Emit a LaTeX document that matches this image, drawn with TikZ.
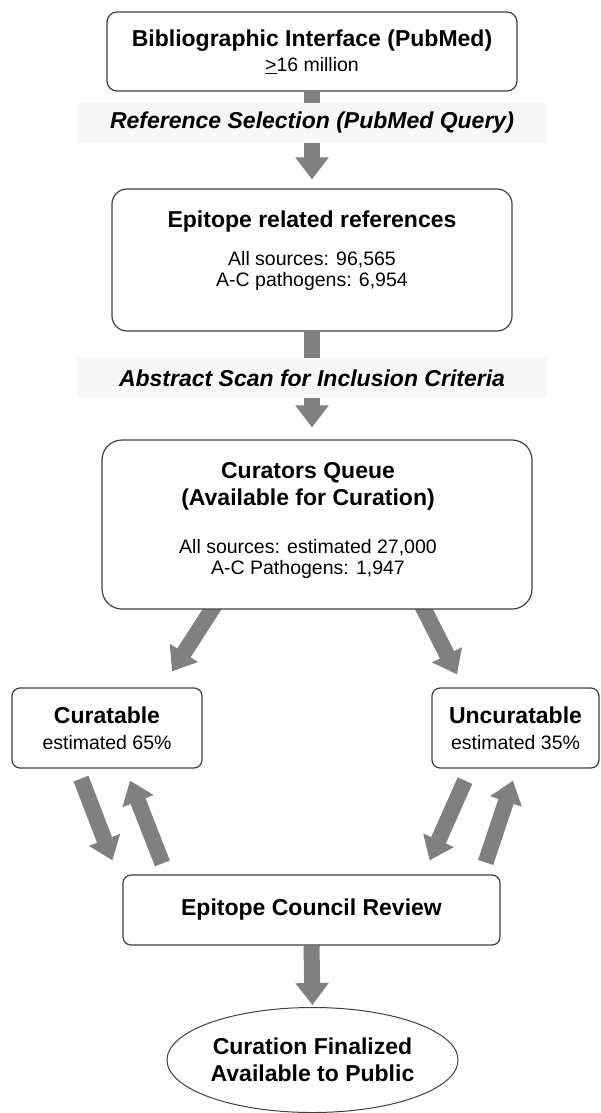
\documentclass[tikz,border=0pt]{standalone}
\usepackage{fontspec}
\setmainfont{Liberation Sans}
\usepackage{tikz}
\usetikzlibrary{arrows.meta,positioning,calc,shapes.geometric,backgrounds}
\definecolor{arrowgray}{HTML}{808080}
\definecolor{edgegray}{HTML}{404040}
\definecolor{bandgray}{HTML}{F7F7F7}
\newcommand\headfont{\fontsize{23}{27}\selectfont\bfseries}
\newcommand\bodyfont{\fontsize{19.5}{21}\selectfont}
\newcommand\stagefont{\fontsize{23}{26}\selectfont\bfseries\itshape}
\tikzset{box/.style = {draw=edgegray, line width=1.2pt, fill=white, rounded corners=#1, align=center, inner sep=0pt, font=\bodyfont},
  box/.default=8pt,
  stage/.style = {fill=bandgray, font=\stagefont, minimum width=470pt, minimum height=40pt, inner sep=0pt},
  fatarrow/.style = {draw=arrowgray, line width=16pt, -{Triangle[length=22pt,width=32pt]}}}

\begin{document}
\begin{tikzpicture}[x=1pt,y=-1pt]
                    \useasboundingbox (0,0) rectangle (600,1113);

                    \node[box=10pt, minimum width=410pt, minimum height=79pt] (pubmed) at (312,51.5)
                      {{\headfont Bibliographic Interface (PubMed)}\\[4pt]\underline{>}16 million};

                    \node[box=15pt, minimum width=400pt, minimum height=142pt] (refs) at (312,260) {};
                    \node[font=\headfont] (refs-t) at (312,222) {Epitope related references};
                    \node[font=\bodyfont, align=center] (refs-n) at (312,271) {All sources: 96,565\\A-C pathogens: 6,954};

                    \node[box=20pt, minimum width=430pt, minimum height=169pt] (queue) at (317,524.5) {};
                    \node[font=\headfont, align=center] (queue-t) at (308,486) {Curators Queue\\(Available for Curation)};
                    \node[font=\bodyfont, align=center] (queue-n) at (308,559) {All sources: estimated 27,000\\A-C Pathogens: 1,947};

                    \node[box, minimum width=190pt, minimum height=80pt] (cur) at (107,728)
                      {{\headfont Curatable}\\[5pt]estimated 65\%};
                    \node[box, minimum width=167pt, minimum height=80pt] (uncur) at (515.5,728)
                      {{\headfont Uncuratable}\\[5pt]estimated 35\%};

                    \node[box, minimum width=377pt, minimum height=70pt, font=\headfont] (council) at (311.5,910)
                      {Epitope Council Review};

                    \node[ellipse, draw=edgegray, line width=1pt, fill=white, align=center, inner sep=0pt,
                      font=\headfont, minimum width=291pt, minimum height=105pt] (final) at (312.5,1060)
                      {Curation Finalized\\Available to Public};

                    \node[stage] (selq) at (312,123) {Reference Selection (PubMed Query)};
                    \node[stage] (scan) at (312,378) {Abstract Scan for Inclusion Criteria};

                    \begin{scope}[on background layer]
                      \draw[fatarrow] (pubmed.south) -- ($(refs.north)+(0,-9)$);
                      \draw[fatarrow] (refs.south) -- ($(queue.north)+(-5,-12)$);
                      \draw[fatarrow] ($(queue.south)+(-100,-8)$) -- ($(cur.north)+(65,-16)$);
                      \draw[fatarrow] ($(queue.south)+(102.5,-9)$) -- ($(uncur.north)+(-58.5,-13)$);
                      \draw[fatarrow] ($(cur.south)+(-26,10)$) -- ($(council.north west)+(-10,-14)$);
                      \draw[fatarrow] ($(council.north west)+(40,-11)$) -- ($(cur.south)+(23,12)$);
                      \draw[fatarrow] ($(uncur.south)+(-50.5,12)$) -- ($(council.north east)+(-71,-14)$);
                      \draw[fatarrow] ($(council.north east)+(-15,-12)$) -- ($(uncur.south)+(-2.5,12)$);
                      \draw[fatarrow] (council.south) -- ($(final.north)+(0,-2)$);
                    \end{scope}
                  \end{tikzpicture}
\end{document}
